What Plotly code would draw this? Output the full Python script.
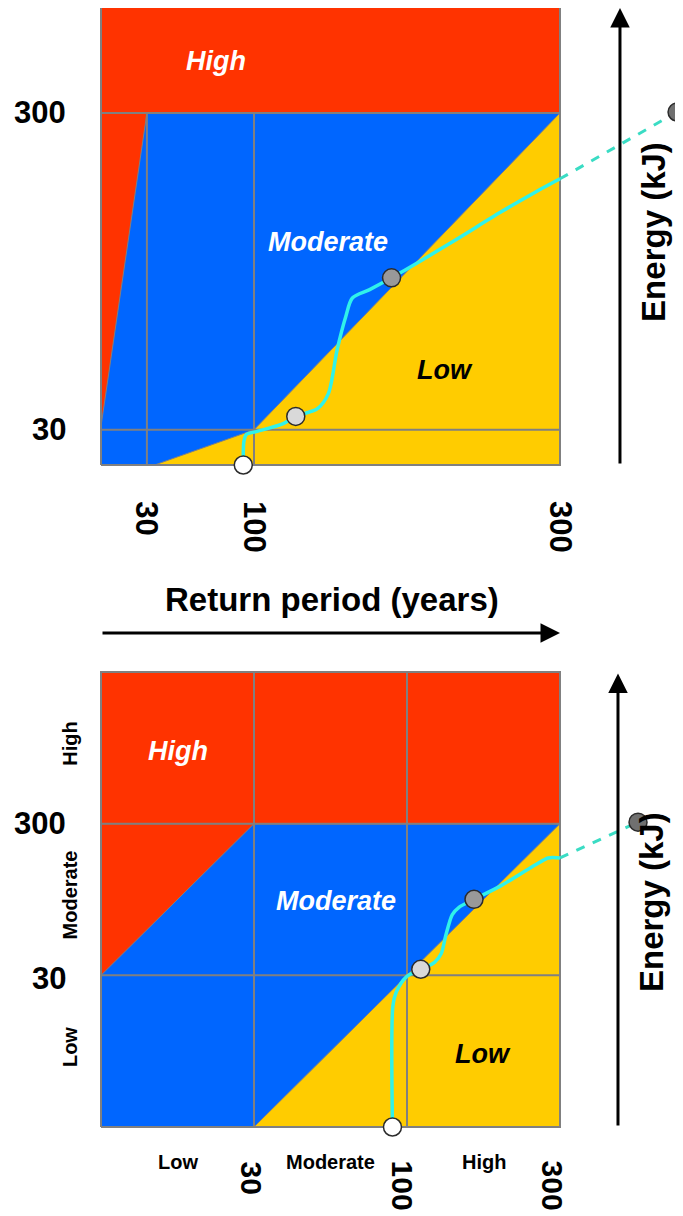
import plotly.graph_objects as go

# page is shown with the browser's default 8px body margin
OFF = 8
W, H = 683 - OFF, 1216 - OFF

# ---------------- data ----------------
risk_levels = ["Low", "Moderate", "High"]
x_tick_vals = [30, 100, 300]          # return period (years)
x_tick_text = ["30", "100", "300"]
y_tick_vals = [30, 300]               # energy (kJ)
y_tick_text = ["30", "300"]

# top panel: return period (x, years) vs energy (y, kJ)
top_red_band_x = [0, 300, 300, 0]
top_red_band_y = [300, 300, 392, 392]
top_blue_x = [0, 300, 300, 0]
top_blue_y = [0, 0, 300, 300]
top_red_wedge_x = [0, 30, 0]
top_red_wedge_y = [300, 300, 33]
top_yellow_x = [35, 100, 300, 300]
top_yellow_y = [0, 30, 300, 0]

top_curve_x = [93, 93.4, 95, 101.6, 118.7, 127.3, 141.5, 148.6, 154.3, 160, 164.3, 175.6,
               189.9, 206.9, 232.5, 261, 283.8, 300]
top_curve_y = [0, 20, 26, 28.5, 35.1, 41.4, 48, 60.8, 98, 126.6, 142.3, 149.5,
               159.5, 172.4, 192.4, 215.3, 232.5, 243.9]
top_dash_x = [300, 376.5]
top_dash_y = [243.9, 300.8]
top_pts_x = [93, 127.3, 189.9, 376.5]
top_pts_y = [0, 41.4, 159.5, 300.8]

# bottom panel: 3x3 class matrix (class units 0..3)
bot_blue_x = [0, 3, 3, 0]
bot_blue_y = [0, 0, 2, 2]
bot_red_band_x = [0, 3, 3, 0]
bot_red_band_y = [2, 2, 3, 3]
bot_red_tri_x = [0, 1, 0]
bot_red_tri_y = [2, 2, 1]
bot_yellow_x = [1, 3, 3]
bot_yellow_y = [0, 2, 0]

bot_curve_x = [1.905, 1.908, 1.93, 1.996, 2.09, 2.18, 2.224, 2.253, 2.296, 2.338, 2.438,
               2.609, 2.837, 2.923, 3.0]
bot_curve_y = [0, 0.80, 0.89, 0.99, 1.04, 1.086, 1.144, 1.261, 1.401, 1.447, 1.501,
               1.588, 1.728, 1.774, 1.774]
bot_dash_x = [3.0, 3.51]
bot_dash_y = [1.774, 2.01]
bot_pts_x = [1.905, 2.09, 2.438, 3.51]
bot_pts_y = [0, 1.04, 1.501, 2.01]

marker_fill = ["#FFFFFF", "#D9D9D9", "#999999", "#707070"]

# ---------------- styling ----------------
RED, BLUE, YELLOW = "#FF3300", "#0066FF", "#FFCC00"
GRID = "#808080"
CYAN = "#30F2EA"
DASHC = "#3ADCC4"
FONT = "Liberation Sans, Arial, sans-serif"


def rng_x(a, pa, b, pb):
    pa, pb = pa - OFF, pb - OFF
    k = (pb - pa) / (b - a)
    r0 = a - pa / k
    return [r0, r0 + W / k]


def rng_y(a, pa, b, pb):
    pa, pb = pa - OFF, pb - OFF
    k = (pa - pb) / (b - a)
    r1 = b + pb / k
    return [r1 - H / k, r1]


fig = go.Figure()


def poly(xs, ys, color, xa, ya, lw=1):
    fig.add_trace(go.Scatter(x=xs + xs[:1], y=ys + ys[:1], fill="toself", fillcolor=color,
                             mode="lines", line=dict(color=GRID, width=lw),
                             xaxis=xa, yaxis=ya, hoverinfo="skip"))


def seg(xs, ys, xa, ya, color=GRID, w=2, dash=None):
    fig.add_trace(go.Scatter(x=xs, y=ys, mode="lines",
                             line=dict(color=color, width=w, dash=dash),
                             xaxis=xa, yaxis=ya, hoverinfo="skip"))


# ---- top panel ----
poly(top_blue_x, top_blue_y, BLUE, "x", "y")
poly(top_red_band_x, top_red_band_y, RED, "x", "y")
poly(top_red_wedge_x, top_red_wedge_y, RED, "x", "y")
poly(top_yellow_x, top_yellow_y, YELLOW, "x", "y")
for xv in x_tick_vals[:2]:
    seg([xv, xv], [0, 300], "x", "y")
for yv in y_tick_vals:
    seg([0, 300], [yv, yv], "x", "y")
seg([0, 300, 300, 0, 0], [0, 0, 392, 392, 0], "x", "y")
fig.add_trace(go.Scatter(x=top_curve_x, y=top_curve_y, mode="lines",
                         line=dict(color=CYAN, width=3.5, shape="spline", smoothing=0.8),
                         xaxis="x", yaxis="y", hoverinfo="skip"))
seg(top_dash_x, top_dash_y, "x", "y", color=DASHC, w=3, dash="dash")
fig.add_trace(go.Scatter(x=top_pts_x, y=top_pts_y, mode="markers", cliponaxis=False,
                         marker=dict(size=18, color=marker_fill,
                                     line=dict(color="#2B2B2B", width=1.5)),
                         xaxis="x", yaxis="y", hoverinfo="skip"))

# ---- bottom panel ----
poly(bot_blue_x, bot_blue_y, BLUE, "x2", "y2")
poly(bot_red_band_x, bot_red_band_y, RED, "x2", "y2")
poly(bot_red_tri_x, bot_red_tri_y, RED, "x2", "y2")
poly(bot_yellow_x, bot_yellow_y, YELLOW, "x2", "y2")
for v in [1, 2]:
    seg([v, v], [0, 3], "x2", "y2")
    seg([0, 3], [v, v], "x2", "y2")
seg([0, 3, 3, 0, 0], [0, 0, 3, 3, 0], "x2", "y2")
fig.add_trace(go.Scatter(x=bot_curve_x, y=bot_curve_y, mode="lines",
                         line=dict(color=CYAN, width=3.5, shape="spline", smoothing=0.8),
                         xaxis="x2", yaxis="y2", hoverinfo="skip"))
seg(bot_dash_x, bot_dash_y, "x2", "y2", color=DASHC, w=3, dash="dash")
fig.add_trace(go.Scatter(x=bot_pts_x, y=bot_pts_y, mode="markers", cliponaxis=False,
                         marker=dict(size=18, color=marker_fill,
                                     line=dict(color="#2B2B2B", width=1.5)),
                         xaxis="x2", yaxis="y2", hoverinfo="skip"))

# ---------------- annotations ----------------
ann = []


def txt(x, y, text, size, xr="x", yr="y", color="black", angle=0, xanchor="center",
        xshift=0, yshift=0):
    ann.append(dict(x=x, y=y, xref=xr, yref=yr, text=text, showarrow=False,
                    font=dict(family=FONT, size=size, color=color), textangle=angle,
                    xanchor=xanchor, yanchor="middle", xshift=xshift, yshift=yshift))


def arrow(x0, y0, x1, y1, xr, yr):
    ann.append(dict(x=x1, y=y1, ax=x0, ay=y0, xref=xr, yref=yr, axref=xr, ayref=yr,
                    text="", showarrow=True, arrowhead=2, arrowsize=1.3, arrowwidth=3,
                    arrowcolor="black", standoff=0))


# top panel texts
txt(75.3, 344, "<b><i>High</i></b>", 27, color="white")
txt(148.4, 190, "<b><i>Moderate</i></b>", 27, color="white")
txt(224.6, 81, "<b><i>Low</i></b>", 27)
for v, t in zip(y_tick_vals, y_tick_text):
    txt(-21.6, v, f"<b>{t}</b>", 31, xanchor="right")
for v, t, yc in zip(x_tick_vals, x_tick_text, [-45.2, -52.8, -52.8]):
    txt(v, yc, f"<b>{t}</b>", 31, angle=90)
txt(150.7, -114.2, "<b>Return period (years)</b>", 33)
arrow(0, -143.2, 300, -143.2, "x", "y")
arrow(339.2, 0, 339.2, 389.4, "x", "y")
txt(361.4, 198.6, "<b>Energy (kJ)</b>", 33, angle=-90)

# bottom panel texts
txt(0.505, 2.48, "<b><i>High</i></b>", 27, "x2", "y2", color="white")
txt(1.536, 1.49, "<b><i>Moderate</i></b>", 27, "x2", "y2", color="white")
txt(2.497, 0.484, "<b><i>Low</i></b>", 27, "x2", "y2")
for i, lvl in enumerate(risk_levels):
    txt(i + 0.5, -0.231, f"<b>{lvl}</b>", 20, "x2", "y2")
    txt(-0.2026, i + 0.527, f"<b>{lvl}</b>", 20, "x2", "y2", angle=-90)
for i, (t, sh) in enumerate(zip(x_tick_text, [-3, -5, -8])):
    txt(i + 1, -0.333 if i == 0 else -0.386, f"<b>{t}</b>", 30, "x2", "y2", angle=90, xshift=sh)
for i, t in enumerate(y_tick_text):
    txt(-0.216, i + 1, f"<b>{t}</b>", 31, "x2", "y2", xanchor="right", yshift=-3 if i == 0 else 0)
arrow(3.379, 0, 3.379, 2.99, "x2", "y2")
txt(3.595, 1.4835, "<b>Energy (kJ)</b>", 33, "x2", "y2", angle=-90)

ax_common = dict(visible=False, showgrid=False, zeroline=False, fixedrange=True)
fig.update_layout(
    width=W, height=H, margin=dict(l=0, r=0, t=0, b=0),
    paper_bgcolor="white", plot_bgcolor="rgba(0,0,0,0)", showlegend=False,
    xaxis=dict(domain=[0, 1], range=rng_x(0, 101, 300, 560), **ax_common),
    yaxis=dict(domain=[0, 1], range=rng_y(0, 465, 392, 5), **ax_common),
    xaxis2=dict(domain=[0, 1], range=rng_x(0, 101, 3, 560), overlaying="x", **ax_common),
    yaxis2=dict(domain=[0, 1], range=rng_y(0, 1127, 3, 672), overlaying="y", **ax_common),
    annotations=ann,
)
fig.write_html("out.html")
